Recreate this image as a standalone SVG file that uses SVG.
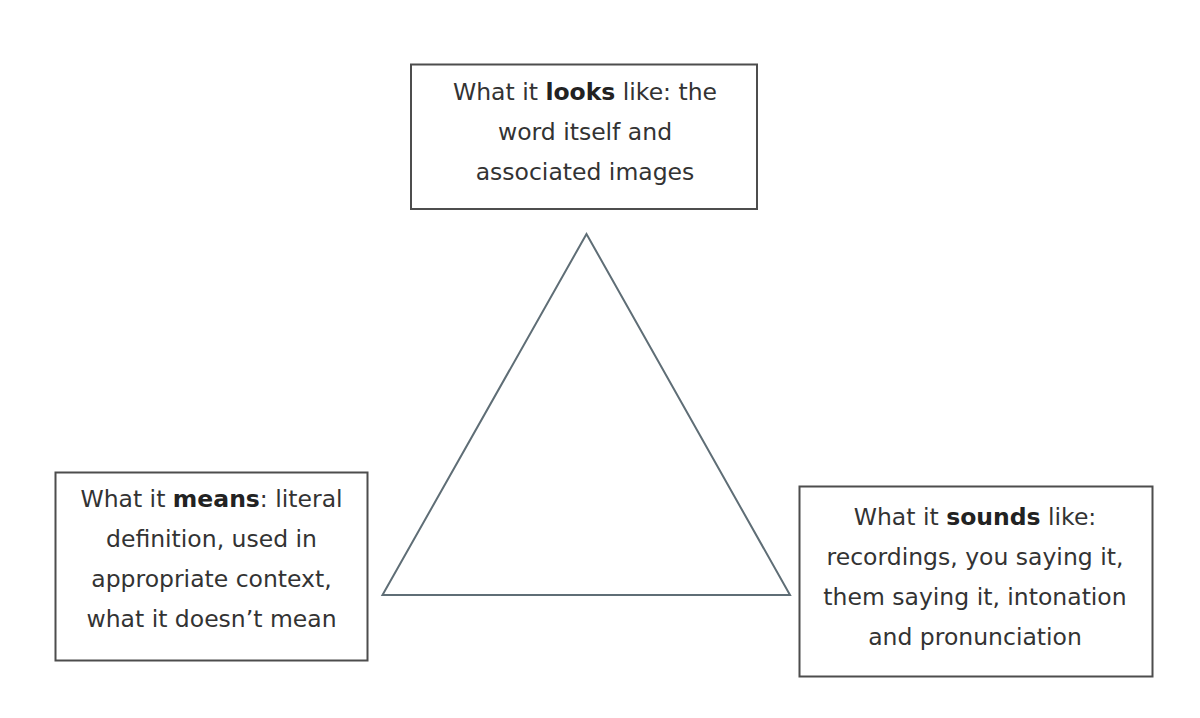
<svg xmlns="http://www.w3.org/2000/svg" width="1200" height="718" viewBox="0 0 1200 718">
  <style>
    .box { fill: #ffffff; stroke: #4d4d4d; stroke-width: 2; }
    .txt { font-family: "DejaVu Sans", "Liberation Sans", sans-serif; font-size: 23.5px; fill: #333333; text-anchor: middle; }
    .b { font-weight: bold; fill: #222222; }
    .tri { fill: none; stroke: #5f6e76; stroke-width: 2; stroke-linejoin: miter; }
  </style>
  <rect width="1200" height="718" fill="#ffffff"/>
  <g id="triangle">
    <polygon class="tri" points="586.5,234 382.5,595 790,595"/>
  </g>
  <g id="connectors"></g>
  <g id="node-looks">
    <rect class="box" x="411" y="64.5" width="346" height="144.5"/>
    <text class="txt" x="585" y="100">What it <tspan class="b">looks</tspan> like: the</text>
    <text class="txt" x="585" y="140">word itself and</text>
    <text class="txt" x="585" y="180">associated images</text>
  </g>
  <g id="node-means">
    <rect class="box" x="55.5" y="472.5" width="312" height="188"/>
    <text class="txt" x="211.5" y="507">What it <tspan class="b">means</tspan>: literal</text>
    <text class="txt" x="211.5" y="547">definition, used in</text>
    <text class="txt" x="211.5" y="587">appropriate context,</text>
    <text class="txt" x="211.5" y="627">what it doesn’t mean</text>
  </g>
  <g id="node-sounds">
    <rect class="box" x="799.5" y="486.5" width="353" height="190"/>
    <text class="txt" x="975" y="525">What it <tspan class="b">sounds</tspan> like:</text>
    <text class="txt" x="975" y="565">recordings, you saying it,</text>
    <text class="txt" x="975" y="605">them saying it, intonation</text>
    <text class="txt" x="975" y="645">and pronunciation</text>
  </g>
</svg>
